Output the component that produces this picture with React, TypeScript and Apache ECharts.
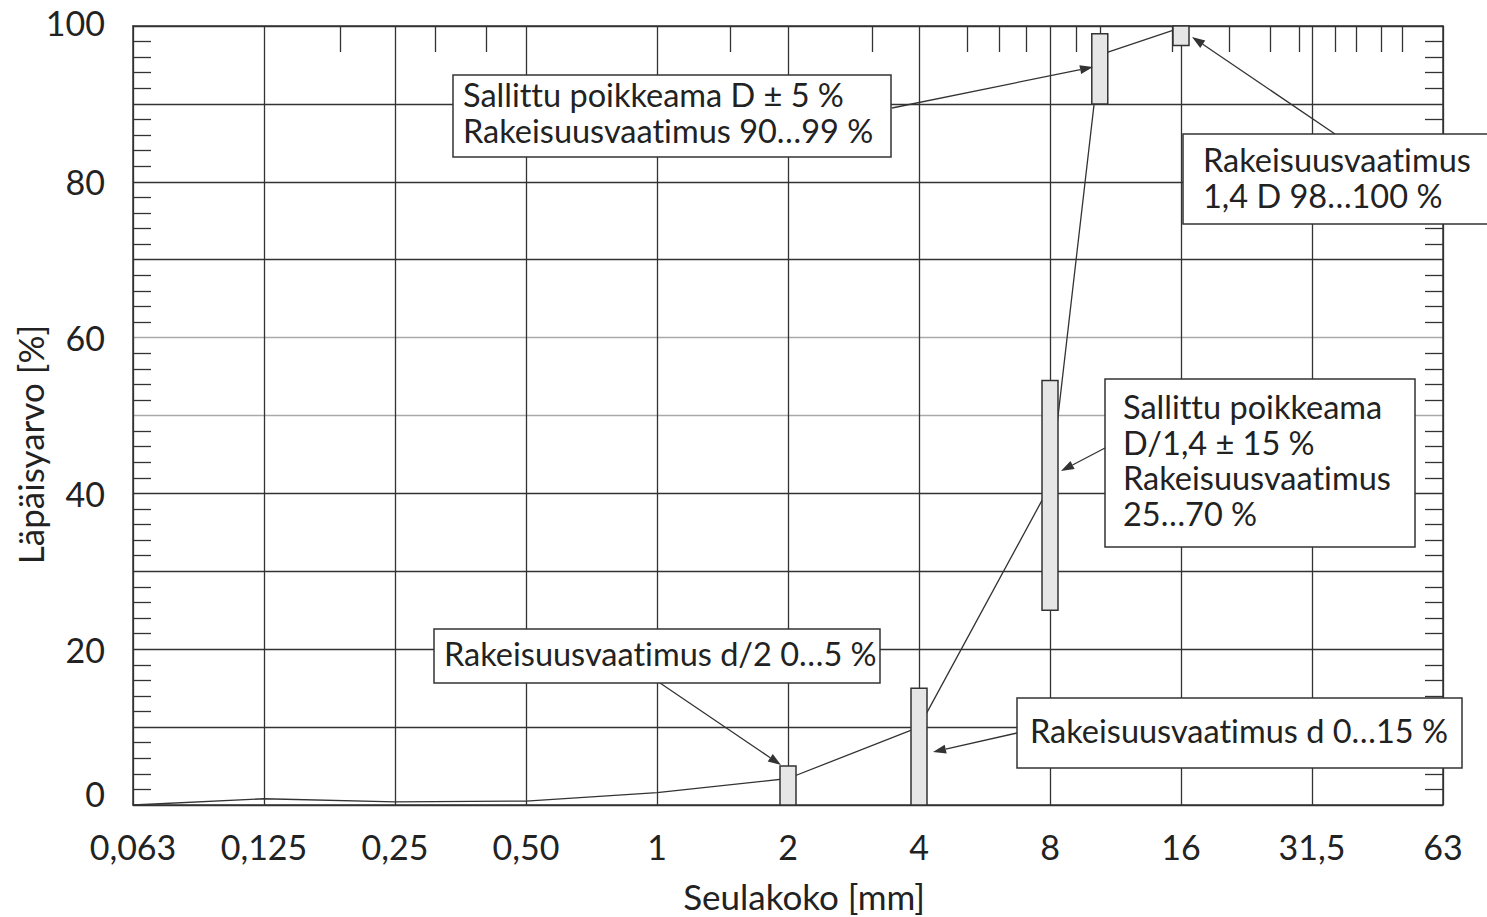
import React, { useEffect, useRef } from 'react';
import * as echarts from 'echarts';

// Sieve sizes (equally spaced on the log-2 axis), shown as category positions 0..10
const xLabels = ['0,063', '0,125', '0,25', '0,50', '1', '2', '4', '8', '16', '31,5', '63'];
// Grading curve: position on the sieve axis, passing percentage
const curveX = [0, 1, 2, 3, 4, 5, 6, 7, 7.38, 8];
const curveY = [0, 0.8, 0.4, 0.5, 1.6, 3.4, 10, 41, 96.3, 99.8];
// Requirement ranges (bars)
const barX = [5, 6, 7, 7.38, 8];
const barLow = [0, 0, 25, 90, 97.5];
const barHigh = [5, 15, 54.5, 99, 100];
// Intermediate sieve ticks along the top edge
const topTicks = [1.58, 2.31, 2.7, 4.56, 5.64, 6.37, 6.61, 6.82, 7.2, 7.38, 7.93, 8.37, 8.68, 8.9, 9.18, 9.34, 9.53, 9.69];
// y grid colours for 0,10,...,100
const yGridColors = ['#333', '#333', '#333', '#333', '#333', '#aaa', '#aaa', '#333', '#333', '#333', '#333'];

const FONT = 'Lato';
const INK = '#222';
const LINE = '#333';
const ANN = 32.5;

function arrow(x1: number, y1: number, x2: number, y2: number) {
  const dx = x2 - x1, dy = y2 - y1;
  const len = Math.hypot(dx, dy);
  const ux = dx / len, uy = dy / len;
  const hl = 13, hw = 4.5;
  const bx = x2 - ux * hl, by = y2 - uy * hl;
  return [
    { type: 'line', z: 100, shape: { x1, y1, x2: bx, y2: by }, style: { stroke: LINE, lineWidth: 1.3 } },
    {
      type: 'polygon', z: 100,
      shape: { points: [[x2, y2], [bx - uy * hw, by + ux * hw], [bx + uy * hw, by - ux * hw]] },
      style: { fill: LINE },
    },
  ];
}

function box(x: number, y: number, w: number, h: number, tx: number, ty: number, text: string, lh: number) {
  return [
    { type: 'rect', z: 101, shape: { x, y, width: w, height: h }, style: { fill: '#fff', stroke: LINE, lineWidth: 1.5 } },
    {
      type: 'text', z: 102, x: tx, y: ty,
      style: { text, fill: INK, font: `${ANN}px ${FONT}`, lineHeight: lh, verticalAlign: 'top', align: 'left' },
    },
  ];
}

export default function App() {
  const ref = useRef<HTMLDivElement>(null);
  useEffect(() => {
    if (!ref.current) return;
    const chart = echarts.init(ref.current, undefined, { renderer: 'svg' });
    const axisLine = { show: true, onZero: false, lineStyle: { color: LINE, width: 1.5 } };
    const labelFont = { fontSize: 34, color: INK, fontFamily: FONT };
    const option: any = {
      animation: false,
      backgroundColor: '#fff',
      textStyle: { fontFamily: FONT },
      grid: { left: 133, top: 26, right: 44, bottom: 112, containLabel: false, outerBoundsMode: 'none' },
      xAxis: [
        {
          type: 'value', min: 0, max: 10, interval: 1, position: 'bottom',
          axisLine, axisTick: { show: false },
          axisLabel: {
            formatter: (v: number) => xLabels[Math.round(v)] ?? '',
            ...labelFont, margin: 24,
          },
          splitLine: { show: true, lineStyle: { color: LINE, width: 1.3 } },
          name: 'Seulakoko [mm]', nameLocation: 'middle', nameGap: 73,
          nameTextStyle: { fontSize: 35, color: INK, fontFamily: FONT, padding: [0, 0, 0, 32] },
        },
        {
          type: 'value', min: 0, max: 10, position: 'top',
          axisLine,
          axisTick: { show: true, inside: true, length: 26, customValues: topTicks, lineStyle: { color: LINE, width: 1.3 } },
          axisLabel: { show: false },
          splitLine: { show: false },
        },
      ],
      yAxis: [
        {
          type: 'value', min: 0, max: 100, interval: 10, position: 'left',
          axisLine, axisTick: { show: false, inside: true },
          minorTick: { show: true, splitNumber: 5, length: 18, lineStyle: { color: LINE, width: 1.3 } },
          axisLabel: {
            formatter: (v: number) => {
              if (v === 0) return '{b|0}';
              if (v === 100) return '{t|100}';
              return v % 20 === 0 ? String(v) : '';
            },
            ...labelFont, margin: 28,
            rich: {
              b: { ...labelFont, padding: [0, 0, 24, 0] },
              t: { ...labelFont, padding: [0, 0, 8, 0] },
            },
          },
          splitLine: { show: true, lineStyle: { color: yGridColors, width: 1.3 } },
          name: 'Läpäisyarvo [%]', nameLocation: 'middle', nameGap: 86, nameMoveOverlap: false,
          nameTextStyle: { fontSize: 35, color: INK, fontFamily: FONT, padding: [0, 58, 0, 0] },
        },
        {
          type: 'value', min: 0, max: 100, interval: 10, position: 'right',
          axisLine, axisTick: { show: false, inside: true },
          minorTick: { show: true, splitNumber: 5, length: 18, lineStyle: { color: LINE, width: 1.3 } },
          axisLabel: { show: false },
          splitLine: { show: false },
        },
      ],
      series: [
        {
          type: 'line', xAxisIndex: 0, yAxisIndex: 0, z: 2,
          data: curveX.map((x, i) => [x, curveY[i]]),
          symbol: 'none', lineStyle: { color: LINE, width: 1.3 },
        },
        {
          type: 'custom', xAxisIndex: 0, yAxisIndex: 0, z: 3,
          encode: { x: 0, y: [1, 2] },
          data: barX.map((x, i) => [x, barLow[i], barHigh[i]]),
          renderItem: (_p: any, api: any) => {
            const x = api.value(0);
            const lo = api.coord([x, api.value(1)]);
            const hi = api.coord([x, api.value(2)]);
            const w = 16;
            return {
              type: 'rect',
              shape: { x: lo[0] - w / 2, y: hi[1], width: w, height: lo[1] - hi[1] },
              style: { fill: '#e6e6e6', stroke: LINE, lineWidth: 1.5 },
            };
          },
        },
      ],
      graphic: [
        ...box(453, 75, 438, 82, 463, 76, 'Sallittu poikkeama D ± 5 %\nRakeisuusvaatimus 90…99 %', 36),
        ...arrow(892, 108, 1093, 67),
        ...box(1183, 134, 320, 90, 1203, 142, 'Rakeisuusvaatimus\n1,4 D 98…100 %', 35.5),
        ...arrow(1335, 134, 1192, 37),
        ...box(1105, 379, 310, 168, 1123, 389, 'Sallittu poikkeama\nD/1,4 ± 15 %\nRakeisuusvaatimus\n25…70 %', 35.5),
        ...arrow(1105, 448, 1061, 471),
        ...box(434, 629, 446, 54, 444, 635, 'Rakeisuusvaatimus d/2 0…5 %', 36),
        ...arrow(660, 683, 781, 765),
        ...box(1017, 698, 445, 70, 1030, 712, 'Rakeisuusvaatimus d 0…15 %', 36),
        ...arrow(1017, 733, 933, 752),
      ],
    };
    chart.setOption(option);
    return () => chart.dispose();
  }, []);
  return (
    <>
      <style>{'svg text { font-variant-ligatures: none !important; font-feature-settings: "liga" 0, "clig" 0 !important; }'}</style>
      <div ref={ref} style={{ position: 'absolute', left: 0, top: 0, width: 1487, height: 917 }} />
    </>
  );
}
